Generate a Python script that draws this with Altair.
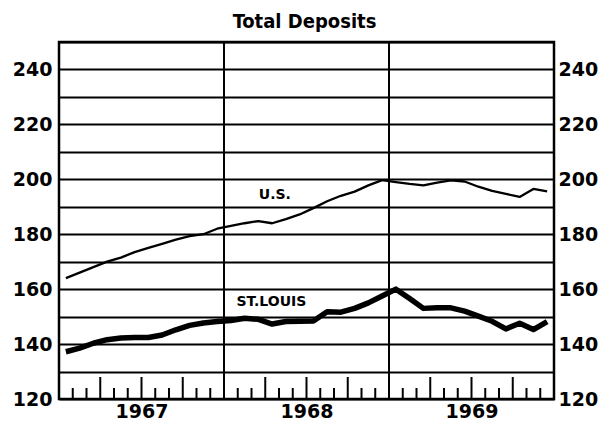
import altair as alt
import pandas as pd

# ---- data (monthly, Jan 1967 .. Dec 1969) ----
month_idx = list(range(36))
us = [164.0, 166.0, 168.0, 170.0, 171.5, 173.5, 175.0, 176.5, 178.0, 179.3, 180.0, 182.0,
      183.0, 184.0, 184.8, 184.0, 185.5, 187.2, 189.5, 192.0, 194.0, 195.5, 197.8, 199.7,
      199.0, 198.3, 197.8, 198.8, 199.6, 199.2, 197.3, 195.8, 194.7, 193.6, 196.5, 195.6]
stl = [137.2, 138.5, 140.3, 141.6, 142.2, 142.4, 142.4, 143.3, 145.2, 146.8, 147.7, 148.2,
       148.6, 149.4, 149.0, 147.3, 148.2, 148.3, 148.4, 151.8, 151.6, 153.0, 155.0, 157.5,
       160.0, 156.6, 153.0, 153.2, 153.2, 152.0, 150.2, 148.3, 145.5, 147.6, 145.3, 148.2]
years = ["1967", "1968", "1969"]
year_centers = [6, 18, 30]
year_bounds = [12, 24]
month_bounds = [m for m in range(1, 36) if m % 12 != 0]
y_grid = list(range(120, 251, 10))
y_labels = list(range(120, 241, 20))
series_labels = ["U.S.", "ST.LOUIS"]
label_t = [15.7, 15.45]
label_v = [194.4, 155.2]
title_text = "Total Deposits"

W, H = 495, 357
FONT = "DejaVu Sans"
TITLE_FONT = "Liberation Sans Narrow, DejaVu Sans Condensed, Liberation Sans, sans-serif"

df_us = pd.DataFrame({"t": [m + 0.5 for m in month_idx], "v": us})
df_stl = pd.DataFrame({"t": [m + 0.5 for m in month_idx], "v": stl})
df_bounds = pd.DataFrame({"t": year_bounds, "lo": [120] * 2, "hi": [250] * 2})
df_short = pd.DataFrame({"t": [m for m in month_bounds if m % 3 != 0]})
df_tall = pd.DataFrame({"t": [m for m in month_bounds if m % 3 == 0]})
df_lab = pd.DataFrame({"t": label_t, "v": label_v, "text": series_labels})
df_title = pd.DataFrame({"text": [title_text]})

xs = alt.Scale(domain=[0, 36], nice=False, zero=False)
ys = alt.Scale(domain=[120, 250], nice=False, zero=False)

year_expr = "[" + ",".join("'" + y + "'" for y in years) + "][floor(datum.value/12)]"

# U.S. line carries the left axis + grid and the bottom year labels
us_line = alt.Chart(df_us).mark_line(color="black", strokeWidth=2.3, strokeJoin="round").encode(
    x=alt.X("t:Q", scale=xs, axis=alt.Axis(
        values=year_centers, title=None, domain=False, ticks=False, grid=False,
        labelExpr=year_expr,
        labelFont=FONT, labelFontSize=19, labelFontWeight="bold", labelColor="black",
        labelPadding=3)),
    y=alt.Y("v:Q", scale=ys, axis=alt.Axis(
        values=y_grid, title=None, domain=False, ticks=False, grid=True,
        gridColor="black", gridWidth=2, gridOpacity=1,
        labelExpr="datum.value % 20 == 0 && datum.value < 250 ? datum.label : ''",
        labelFont=FONT, labelFontSize=19, labelFontWeight="bold", labelColor="black",
        labelPadding=7, orient="left")),
)

stl_line = alt.Chart(df_stl).mark_line(color="black", strokeWidth=5.5, strokeJoin="round").encode(
    x=alt.X("t:Q", scale=xs),
    y=alt.Y("v:Q", scale=ys, axis=alt.Axis(
        values=y_labels, title=None, domain=False, ticks=False, grid=False,
        labelFont=FONT, labelFontSize=19, labelFontWeight="bold", labelColor="black",
        labelPadding=4, orient="right")),
)

bounds = alt.Chart(df_bounds).mark_rule(color="black", strokeWidth=2).encode(
    x=alt.X("t:Q", scale=xs),
    y=alt.Y("lo:Q", scale=ys, axis=None), y2="hi:Q",
)

short_ticks = alt.Chart(df_short).mark_rule(color="black", strokeWidth=2).encode(
    x=alt.X("t:Q", scale=xs),
    y=alt.value(H), y2=alt.value(H - 11),
)
tall_ticks = alt.Chart(df_tall).mark_rule(color="black", strokeWidth=2).encode(
    x=alt.X("t:Q", scale=xs),
    y=alt.value(H), y2=alt.value(H - 22),
)

labels = alt.Chart(df_lab).mark_text(font=FONT, fontSize=14, fontWeight="bold",
                                     color="black").encode(
    x=alt.X("t:Q", scale=xs),
    y=alt.Y("v:Q", scale=ys, axis=None),
    text="text:N",
)

title = alt.Chart(df_title).mark_text(font=TITLE_FONT, fontSize=20, fontWeight="bold",
                                      color="black", baseline="alphabetic",
                                      align="center").encode(
    x=alt.value(W / 2 - 2), y=alt.value(-14), text="text:N",
)

chart = alt.layer(
    us_line, stl_line, bounds, short_ticks, tall_ticks, labels, title
).resolve_axis(y="independent").properties(
    width=W, height=H,
    padding={"left": 51, "top": 34, "right": 44, "bottom": 24},
    autosize=alt.AutoSizeParams(type="none"),
).configure_view(stroke="black", strokeWidth=2.5)

chart.save("out.html", embed_options={"renderer": "svg", "actions": False})
